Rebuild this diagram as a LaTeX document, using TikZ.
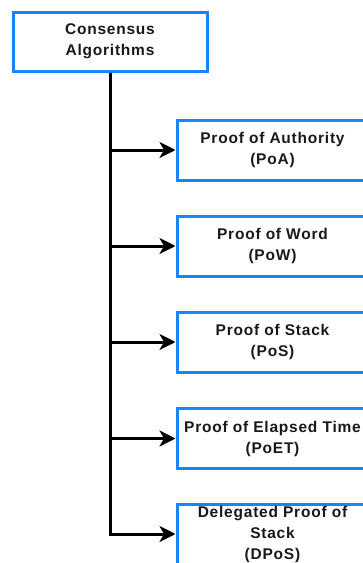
\documentclass[tikz,border=0pt]{standalone}
\usepackage{fontspec}
\setmainfont{Liberation Sans}[LetterSpace=5]
\usetikzlibrary{arrows.meta}
\definecolor{boxblue}{RGB}{24,132,255}
\definecolor{txt}{RGB}{25,25,25}
\tikzset{
  algbox/.style={draw=boxblue, line width=3pt, fill=white, rectangle, inner sep=0pt,
    minimum width=191pt, minimum height=60pt, align=center, text=txt,
    font=\fontsize{15.5}{21}\selectfont\bfseries},
  rootbox/.style={algbox, minimum width=194pt, minimum height=59pt},
  link/.style={draw=black, line width=3pt, line join=miter,
    arrows={-Stealth[length=16pt,width=16pt,inset=4.5pt]}}
}
\begin{document}
\begin{tikzpicture}[x=1pt,y=1pt]
\useasboundingbox (0,0) rectangle (363,-563);
\clip (0,0) rectangle (363,-563);
\node[rootbox] (root) at (110,-41.5) {Consensus\\Algorithms};
\node[algbox] (poa) at (272.5,-150) {Proof of Authority\\(PoA)};
\node[algbox] (pow) at (272.5,-246) {Proof of Word\\(PoW)};
\node[algbox] (pos) at (272.5,-342) {Proof of Stack\\(PoS)};
\node[algbox] (poet) at (272.5,-438.5) {Proof of Elapsed Time\\(PoET)};
\node[algbox] (dpos) at (272.5,-534) {Delegated Proof of\\Stack\\(DPoS)};
\foreach \t in {poa,pow,pos,poet,dpos}{
  \draw[link] (root.south) |- (\t.west);
}
\end{tikzpicture}
\end{document}
